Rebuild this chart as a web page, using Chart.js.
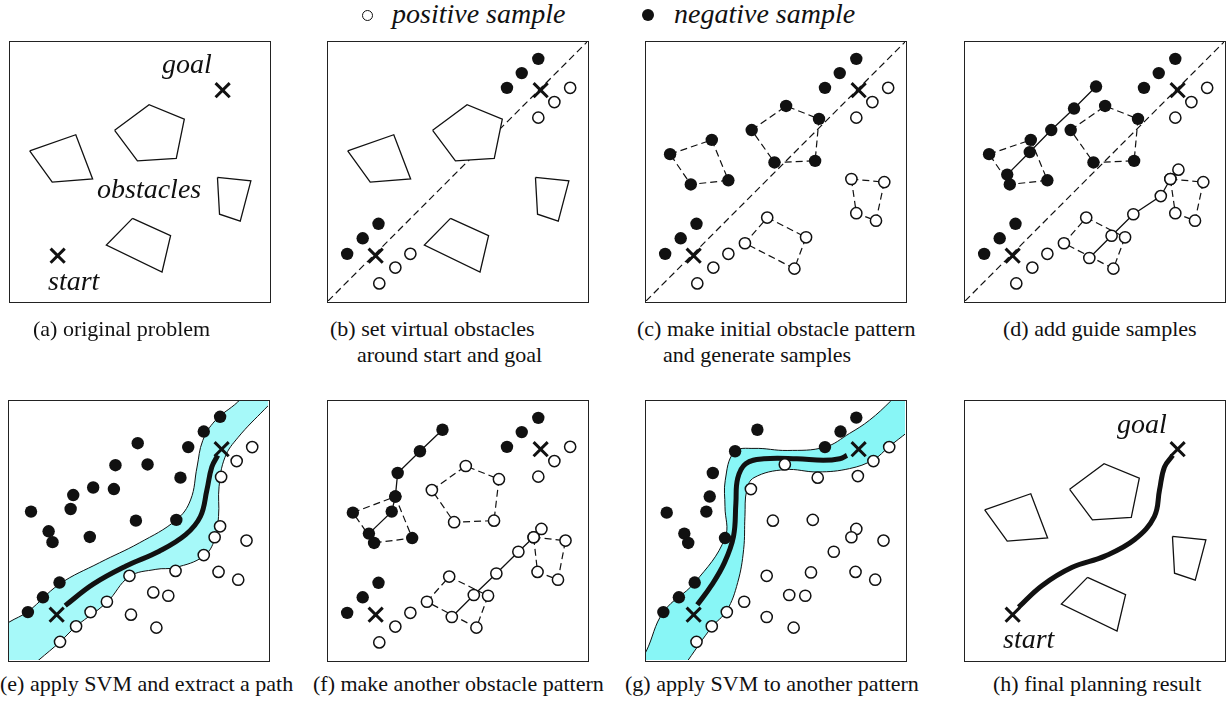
<!DOCTYPE html>
<html>
<head>
<meta charset="utf-8">
<script src="https://cdn.jsdelivr.net/npm/chart.js@4.4.1/dist/chart.umd.min.js"></script>
<style>
  body { margin: 0; width: 1231px; height: 710px; background: #fff; position: relative; overflow: hidden;
         font-family: 'Liberation Serif', 'Times New Roman', serif; color: #111; }
  .box { position: absolute; width: 262px; height: 262px; border: 1.5px solid #222; box-sizing: border-box; overflow: hidden; }
  .box canvas { display: block; }
  .cap { position: absolute; font-size: 22px; line-height: 26px; white-space: nowrap; }
  .lab { position: absolute; font-size: 28px; line-height: 28px; font-style: italic; white-space: nowrap; }
  .dot { position: absolute; border-radius: 50%; box-sizing: border-box; }
</style>
</head>
<body>
<script>
// panel units: 0..100 both ways, y up

// obstacles of the original problem (a, b, h)
const obsPentagon = [[40.4,65.9],[53.7,75.8],[67.3,70.2],[64.2,55.1],[49.2,54.1]];
const obsLeftQuad = [[7.6,58.0],[25.4,64.2],[31.9,47.1],[16.3,45.9]];
const obsRightQuad = [[80.1,47.7],[93.0,46.4],[88.9,30.8],[80.9,33.5]];
const obsBottomQuad = [[47.3,31.9],[62.0,25.2],[58.7,11.2],[37.2,21.6]];
const startGoal = [[18.4,17.5],[82.1,81.4]];
const diagonal = [[0,0],[100,100]];

// virtual obstacles around start and goal (b, c, d, f)
const goalNeg = [[69.1,82.3],[74.8,88.0],[81.2,93.5]];
const goalPos = [[81.2,70.8],[87.4,76.8],[93.5,82.3]];
const startNeg = [[7.4,18.2],[13.4,24.2],[19.5,29.8]];
const startPos = [[19.8,6.8],[26.0,12.9],[31.8,18.2]];

// (c) initial obstacle pattern
const patNegQuad = [[9.3,56.7],[25.4,62.2],[31.8,46.6],[17.3,45.0]];
const patNegPent = [[40.8,66.0],[54.1,75.3],[66.8,70.3],[65.3,54.1],[49.6,53.5]];
const patPosQuadR = [[79.3,47.1],[92.0,45.9],[88.8,31.0],[81.2,33.9]];
const patPosQuadB = [[46.8,32.2],[61.8,24.6],[57.3,12.5],[38.2,22.3]];

// (d) guide samples
const guideNeg = [[16.3,48.8],[25.0,57.5],[33.3,66.0],[42.1,74.3],[50.6,82.8]];
const guidePos = [[48.0,16.6],[56.6,25.2],[65.0,33.5],[75.6,40.5],[79.3,47.1],[82.4,50.7]];

// (e) SVM result
const svmNegE = [[81.5,93.9],[75.2,88.2],[69.2,82.2],[49.7,83.7],[41.1,75.2],[53.5,75.5],[66.2,70.4],
  [32.5,66.6],[40.5,66.0],[24.8,63.7],[23.8,58.3],[8.5,57.3],[15.3,49.7],[16.8,45.5],[31.2,47.5],
  [49.0,53.8],[64.6,54.1],[19.5,29.9],[13.1,24.2],[7.3,18.5]];
const svmPosE = [[93.9,82.2],[87.9,76.8],[81.9,70.7],[81.5,51.6],[79.4,47.4],[91.7,46.1],[75.2,40.5],
  [64.3,34.4],[80.9,34.0],[88.5,31.0],[46.5,32.5],[55.7,26.1],[61.5,24.8],[37.8,22.5],[31.5,18.5],
  [47.1,17.5],[56.9,12.5],[25.9,13.0],[19.7,7.0]];
const bandUpperE = [[-5,11],[0,14.6],[7.3,18.7],[19.5,29.3],[35.0,37.6],[50.3,45.2],[64.6,54.1],[70.1,61.8],
  [72.6,74.5],[74.8,84.7],[79.6,92.4],[88.3,99.6],[91,103]];
const bandLowerE = [[-10,-18],[11.5,0],[19.7,7.0],[25.9,13.0],[37.8,22.3],[46.5,32.2],[56.7,35.0],[64.3,35.7],
  [75.2,40.1],[79.4,46.5],[80.9,55.4],[81.1,66.9],[83.4,78.3],[88.5,86.0],[98.7,96.8],[104,102]];
const pathE = [[21.7,21.0],[32.5,29.3],[45.2,36.3],[58.0,42.0],[68.2,48.4],[73.9,55.4],[76.4,65.6],[78.3,74.5],[80.6,79.0]];

// (f) another obstacle pattern
const fNegQuad = [[9.6,56.9],[26.0,63.1],[32.5,47.1],[17.8,45.2]];
const fNegGuide = [[15.8,48.8],[24.6,57.3],[26.0,63.1],[26.9,72.2],[35.5,80.6],[44.2,88.9]];
const fPosPent = [[40.1,65.6],[53.2,74.9],[66.0,69.8],[64.1,53.8],[48.7,53.2]];
const fPosQuadB = [[38.2,22.5],[46.8,32.2],[61.8,24.8],[57.3,12.5]];
const fPosQuadR = [[79.4,47.4],[91.7,46.1],[88.8,31.0],[80.9,34.0]];
const fPosGuide = [[47.8,16.6],[56.3,25.1],[65.0,33.4],[73.5,41.8],[79.4,47.4],[82.4,50.6]];

// (g) SVM on the other pattern
const svmNegG = [[81.2,93.6],[75.1,88.2],[69.1,82.2],[43.0,88.9],[34.4,80.6],[25.8,72.2],[24.6,63.1],
  [23.3,57.3],[8.0,56.9],[14.8,48.8],[16.3,45.2],[30.5,47.1],[18.8,29.9],[12.7,24.2],[6.7,18.5]];
const svmPosG = [[93.9,82.2],[87.8,76.8],[81.8,71.0],[53.6,75.5],[66.3,70.4],[40.5,66.0],[49.0,53.8],
  [64.4,54.1],[81.2,50.6],[79.3,47.4],[91.7,46.1],[72.5,41.8],[63.7,33.8],[80.9,34.0],[88.5,31.0],
  [46.6,32.5],[55.3,25.1],[61.5,24.8],[37.9,22.5],[31.2,18.5],[46.6,16.6],[57.0,12.5],[25.4,13.0],[19.5,7.0]];
const bandUpperG = [[-3,-1],[0,3.2],[6.7,18.5],[18.8,29.9],[30.5,47.1],[30.5,59.2],[30.6,69.4],[34.1,80.3],
  [41.7,81.7],[54.5,80.9],[69.1,82.2],[78.6,87.5],[86.3,92.6],[94.5,100],[97,103]];
const bandLowerG = [[-5,-30],[16.3,0],[25.4,12.7],[31.2,19.1],[35.4,29.9],[37.7,42.7],[38.2,55.4],[38.9,65.6],
  [41.7,70.4],[53.6,73.5],[66.3,72.6],[78.6,73.9],[87.8,77.3],[93.9,82.4],[100.9,87.9],[106,92]];
const pathG = [[19.8,21.3],[25.2,28.7],[30.3,37.6],[33.8,47.8],[34.7,60.5],[35.4,70.1],[38.5,75.8],
  [45.5,77.7],[58.3,77.7],[68.4,77.1],[74.8,77.7],[77.6,79.0]];

// (h) final path
const pathH = [[20.7,20.4],[29.7,28.7],[41.2,35.7],[54.0,40.1],[65.5,46.5],[73.1,55.4],[75.1,65.6],[77.0,74.5],[80.2,79.0]];

const captionsTop = ['(a) original problem', '(b) set virtual obstacles', '(c) make initial obstacle pattern', '(d) add guide samples'];
const captionsTop2 = ['', 'around start and goal', 'and generate samples', ''];
const captionsBottom = ['(e) apply SVM and extract a path', '(f) make another obstacle pattern',
  '(g) apply SVM to another pattern', '(h) final planning result'];

//-------------------------
const INK = '#111';
const P = a => a.map(([x, y]) => ({x, y}));
const closed = a => a.concat([a[0]]);

function obstacle(a) {
  return {data: P(closed(a)), showLine: true, pointRadius: 0, borderColor: INK, borderWidth: 1.3,
          backgroundColor: '#fff', fill: 'shape', tension: 0};
}
function dashed(a, isClosed) {
  return {data: P(isClosed ? closed(a) : a), showLine: true, pointRadius: 0, borderColor: INK,
          borderWidth: 1.2, borderDash: [7, 4], fill: false, tension: 0};
}
function solid(a) {
  return {data: P(a), showLine: true, pointRadius: 0, borderColor: INK, borderWidth: 1.3, fill: false, tension: 0};
}
function thick(a) {
  return {data: P(a), showLine: true, pointRadius: 0, borderColor: INK, borderWidth: 5, fill: false, tension: 0.4};
}
function band(a, color) {
  return {data: P(a), showLine: true, pointRadius: 0, borderColor: INK, borderWidth: 1,
          backgroundColor: color, fill: 'end', tension: 0.4};
}
function neg(a) {
  return {data: P(a), showLine: false, pointRadius: 6.2, pointBackgroundColor: INK, pointBorderColor: INK, pointBorderWidth: 0};
}
function pos(a) {
  return {data: P(a), showLine: false, pointRadius: 5.6, pointBackgroundColor: '#fff', pointBorderColor: INK, pointBorderWidth: 1.5};
}
function crosses(a) {
  return {data: P(a), showLine: false, pointStyle: 'crossRot', pointRadius: 10, pointBorderColor: INK, pointBorderWidth: 3};
}

function panel(left, top, datasets) {
  const div = document.createElement('div');
  div.className = 'box';
  div.style.left = left + 'px';
  div.style.top = top + 'px';
  const cv = document.createElement('canvas');
  cv.width = 259; cv.height = 259;
  div.appendChild(cv);
  document.body.appendChild(div);
  datasets.forEach((d, i) => { d.order = -i; }); // later = on top
  new Chart(cv, {
    type: 'scatter',
    data: {datasets},
    options: {
      responsive: false, animation: false, events: [],
      layout: {padding: 0, autoPadding: false},
      scales: {
        x: {type: 'linear', min: 0, max: 100, display: false},
        y: {type: 'linear', min: 0, max: 100, display: false}
      },
      plugins: {legend: {display: false}, tooltip: {enabled: false}}
    }
  });
}

function text(cls, str, left, top) {
  const d = document.createElement('div');
  d.className = cls;
  d.textContent = str;
  d.style.left = left + 'px';
  d.style.top = top + 'px';
  document.body.appendChild(d);
}
function dot(cx, cy, r, filled) {
  const d = document.createElement('div');
  d.className = 'dot';
  d.style.left = (cx - r) + 'px'; d.style.top = (cy - r) + 'px';
  d.style.width = d.style.height = (2 * r) + 'px';
  d.style.background = filled ? INK : '#fff';
  d.style.border = filled ? 'none' : '1.5px solid ' + INK;
  document.body.appendChild(d);
}

const obstacleSet = () => [obsPentagon, obsLeftQuad, obsRightQuad, obsBottomQuad].map(obstacle);
const virtualSamples = () => [neg(startNeg), neg(goalNeg), pos(startPos), pos(goalPos)];

// (a)
panel(9, 41, [...obstacleSet(), crosses(startGoal)]);
// (b)
panel(327, 41, [dashed(diagonal), ...obstacleSet(), ...virtualSamples(), crosses(startGoal)]);
// (c)
panel(645, 41, [dashed(diagonal), dashed(patNegQuad, true), dashed(patNegPent, true),
  dashed(patPosQuadR, true), dashed(patPosQuadB, true),
  ...virtualSamples(), neg(patNegQuad), neg(patNegPent), pos(patPosQuadR), pos(patPosQuadB), crosses(startGoal)]);
// (d)
panel(964, 41, [dashed(diagonal), dashed(patNegQuad, true), dashed(patNegPent, true),
  dashed(patPosQuadR, true), dashed(patPosQuadB, true), solid(guideNeg), solid(guidePos),
  ...virtualSamples(), neg(patNegQuad), neg(patNegPent), pos(patPosQuadR), pos(patPosQuadB),
  neg(guideNeg), pos(guidePos), crosses(startGoal)]);
// (e)
panel(8, 400, [band(bandLowerE, '#a6f9f9'), band(bandUpperE, '#ffffff'), thick(pathE),
  neg(svmNegE), pos(svmPosE), crosses(startGoal)]);
// (f)
panel(327, 400, [dashed(fNegQuad, true), solid(fNegGuide), dashed(fPosPent, true), dashed(fPosQuadB, true),
  dashed(fPosQuadR, true), solid(fPosGuide),
  ...virtualSamples(), neg(fNegQuad), neg(fNegGuide), pos(fPosPent), pos(fPosQuadB), pos(fPosQuadR),
  pos(fPosGuide), crosses(startGoal)]);
// (g)
panel(645, 400, [band(bandLowerG, '#88f6f6'), band(bandUpperG, '#ffffff'), thick(pathG),
  neg(svmNegG), pos(svmPosG), crosses(startGoal)]);
// (h)
panel(964, 400, [...obstacleSet(), thick(pathH), crosses(startGoal)]);

// legend
dot(367, 15, 5.5, false);
text('lab', 'positive sample', 392, 0);
dot(648, 15, 6, true);
text('lab', 'negative sample', 674, 0);

// labels inside (a) and (h)
text('lab', 'goal', 162, 50);
text('lab', 'obstacles', 97, 175);
text('lab', 'start', 48, 267);
text('lab', 'goal', 1117, 410);
text('lab', 'start', 1003, 625);

// captions
const capLeft = [33, 330, 637, 1003];
const capLeft2 = [0, 357, 663, 0];
const capLeftB = [0, 313, 625, 993];
captionsTop.forEach((c, i) => text('cap', c, capLeft[i], 316));
captionsTop2.forEach((c, i) => { if (c) text('cap', c, capLeft2[i], 342); });
captionsBottom.forEach((c, i) => text('cap', c, capLeftB[i], 671));
</script>
</body>
</html>
